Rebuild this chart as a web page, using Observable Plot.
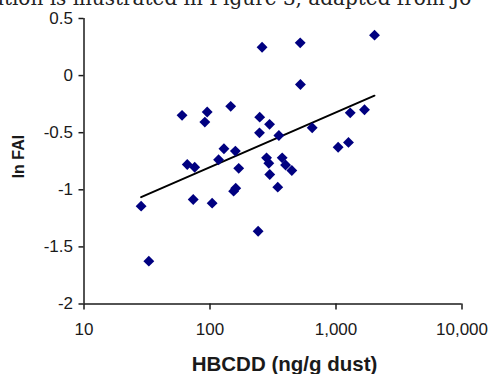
<!DOCTYPE html>
<html>
<head>
<meta charset="utf-8">
<script src="https://cdn.jsdelivr.net/npm/d3@7"></script>
<script src="https://cdn.jsdelivr.net/npm/@observablehq/plot@0.6"></script>
<style>
  html, body { margin: 0; padding: 0; background: #fff; }
  #wrap { position: relative; width: 493px; height: 374px; overflow: hidden; }
  #topline { position: absolute; left: -8px; top: -12px; white-space: nowrap;
    font-family: "DejaVu Serif", "Liberation Serif", serif; font-size: 20px; color: #222; line-height: 1; }
  #chart { position: absolute; left: 0; top: 0; }
</style>
</head>
<body>
<div id="wrap">
  <div id="chart"></div>
  <div id="topline">ation is illustrated in Figure 3, adapted from Jo</div>
</div>
<script>
// HBCDD concentration in dust (ng/g) and ln FAI
const hbcdd = [28.4, 32.7, 60, 66, 75.6, 73.6, 91, 95, 104, 117, 129, 146, 154, 160, 159, 169,
  241, 248, 247, 259, 297, 352, 281, 293, 298, 345, 374, 398, 446, 520, 522, 647,
  1040, 1256, 1297, 1683, 2022];
const lnFAI = [-1.143, -1.625, -0.348, -0.778, -0.803, -1.085, -0.407, -0.319, -1.117, -0.737, -0.641, -0.269, -1.012, -0.986, -0.661, -0.812,
  -1.363, -0.364, -0.501, 0.248, -0.427, -0.524, -0.720, -0.767, -0.866, -0.977, -0.720, -0.783, -0.831, 0.287, -0.078, -0.457,
  -0.627, -0.585, -0.326, -0.299, 0.354];
// trend line endpoints
const trendX = [28.4, 2020];
const trendY = [-1.064, -0.176];
const xTicks = [10, 100, 1000, 10000];
const yTicks = [-2, -1.5, -1, -0.5, 0, 0.5];
const xTitle = "HBCDD (ng/g dust)";
const yTitle = "In FAI";

const points = hbcdd.map((x, i) => ({x, y: lnFAI[i]}));
const trend = trendX.map((x, i) => ({x, y: trendY[i]}));

const axisColor = "#1a1a1a";
const chart = Plot.plot({
  width: 493,
  height: 374,
  marginLeft: 83.5,
  marginRight: 31.5,
  marginTop: 18,
  marginBottom: 70.5,
  style: {fontFamily: "'Liberation Sans', Arial, sans-serif", color: axisColor, background: "white"},
  x: {type: "log", domain: [10, 10000]},
  y: {domain: [-2, 0.5]},
  marks: [
    Plot.line(trend, {x: "x", y: "y", stroke: "#000", strokeWidth: 2}),
    Plot.dot(points, {x: "x", y: "y", symbol: "diamond2", r: 4.9, fill: "#000080", stroke: "none"}),
    Plot.ruleX([10], {y1: -2, y2: 0.5, stroke: axisColor, strokeWidth: 1.5}),
    Plot.ruleY([-2], {x1: 10, x2: 10000, stroke: axisColor, strokeWidth: 1.5}),
    Plot.axisX(xTicks, {tickFormat: d3.format(","), tickSize: 6, tickPadding: 13, fontSize: 17, strokeWidth: 1.5, label: null}),
    Plot.axisY(yTicks, {tickFormat: d => String(d), tickSize: 5, tickPadding: 6, fontSize: 17, strokeWidth: 1.5, label: null}),
    Plot.text([xTitle], {frameAnchor: "bottom", textAnchor: "middle", lineAnchor: "middle", dy: 60, dx: 11.5, fontSize: 20.5, fontWeight: "bold", fill: axisColor}),
    Plot.text([yTitle], {frameAnchor: "left", textAnchor: "middle", lineAnchor: "middle", dx: -65, dy: -4.7, rotate: -90, fontSize: 16, fontWeight: "bold", fill: axisColor})
  ]
});
document.getElementById("chart").appendChild(chart);
</script>
</body>
</html>
